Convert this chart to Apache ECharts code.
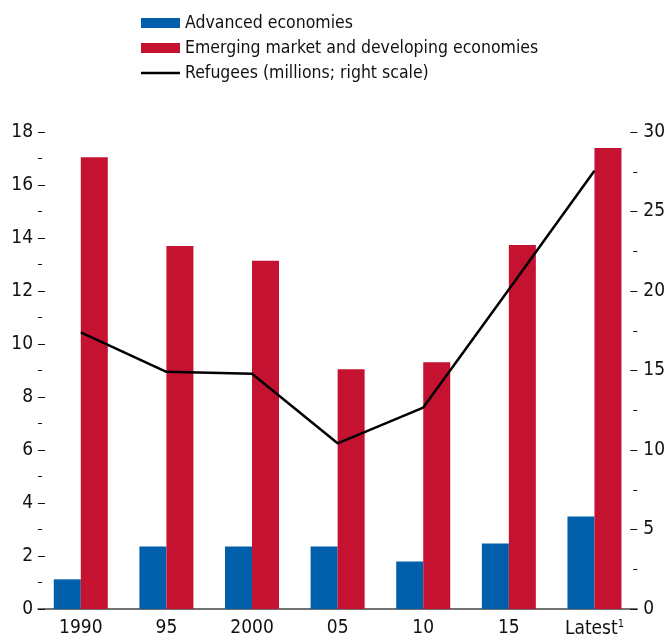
<!DOCTYPE html>
<html>
<head>
<meta charset="utf-8">
<script src="https://cdn.jsdelivr.net/npm/echarts@6/dist/echarts.min.js"></script>
<style>
  html, body { margin: 0; padding: 0; background: #fff; }
  #chart { width: 668px; height: 639px; }
</style>
</head>
<body>
<div id="chart"></div>
<script>
const categories = ['1990', '95', '2000', '05', '10', '15', 'Latest']
const advanced = [1.12, 2.36, 2.36, 2.36, 1.79, 2.47, 3.49]
const emerging = [17.05, 13.7, 13.14, 9.05, 9.31, 13.74, 17.4]
const refugees = [17.4, 14.92, 14.8, 10.42, 12.67, 20.1, 27.56]

const font = "'DejaVu Sans Condensed', 'Liberation Sans Narrow', sans-serif"

const chart = echarts.init(document.getElementById('chart'))

const option = {
  backgroundColor: '#fff',
  animation: false,
  textStyle: { fontFamily: font },
  legend: {
    orient: 'vertical',
    left: 141,
    top: 14,
    padding: 0,
    itemWidth: 39,
    itemHeight: 10,
    itemGap: 7,
    textStyle: { fontFamily: font, fontSize: 17.5, color: '#111' },
    data: [
      { name: 'Advanced economies', icon: 'rect' },
      { name: 'Emerging market and developing economies', icon: 'rect' },
      { name: 'Refugees (millions; right scale)', icon: 'path://M0,0 H39 V2.6 H0 Z' }
    ]
  },
  grid: {
    left: 38,
    right: 28,
    top: 132,
    bottom: 27,
    containLabel: false
  },
  xAxis: {
    type: 'category',
    data: categories,
    axisLine: { show: true, lineStyle: { color: '#444', width: 1.5 } },
    axisTick: { show: false },
    axisLabel: {
      interval: 0,
      margin: 10,
      fontSize: 19,
      color: '#111',
      fontFamily: font,
      formatter: function (v) {
        return v === 'Latest' ? 'Latest{sup|1}' : v
      },
      rich: {
        sup: { fontSize: 11, verticalAlign: 'top', padding: [0, 0, 10, 0], fontFamily: font, color: '#111' }
      }
    }
  },
  yAxis: [
    {
      type: 'value',
      min: 0,
      max: 18,
      interval: 2,
      axisLine: { show: false },
      splitLine: { show: false },
      axisTick: { show: true, inside: true, length: 7, lineStyle: { color: '#111' } },
      minorTick: { show: true, splitNumber: 2, length: 4, lineStyle: { color: '#111' } },
      axisLabel: { margin: 5, fontSize: 19, color: '#111', fontFamily: font }
    },
    {
      type: 'value',
      min: 0,
      max: 30,
      interval: 5,
      axisLine: { show: false },
      splitLine: { show: false },
      axisTick: { show: true, inside: true, length: 7, lineStyle: { color: '#111' } },
      minorTick: { show: true, splitNumber: 2, length: 4, lineStyle: { color: '#111' } },
      axisLabel: { margin: 6, fontSize: 19, color: '#111', fontFamily: font }
    }
  ],
  series: [
    {
      name: 'Advanced economies',
      type: 'bar',
      data: advanced,
      barWidth: 27,
      barGap: '0%',
      itemStyle: { color: '#005eab' },
      z: 2
    },
    {
      name: 'Emerging market and developing economies',
      type: 'bar',
      data: emerging,
      barWidth: 27,
      barGap: '0%',
      itemStyle: { color: '#c41230' },
      z: 2
    },
    {
      name: 'Refugees (millions; right scale)',
      type: 'line',
      yAxisIndex: 1,
      data: refugees,
      symbol: 'none',
      lineStyle: { color: '#000', width: 2.5 },
      itemStyle: { color: '#000' },
      z: 5
    }
  ]
}

chart.setOption(option)
</script>
</body>
</html>
